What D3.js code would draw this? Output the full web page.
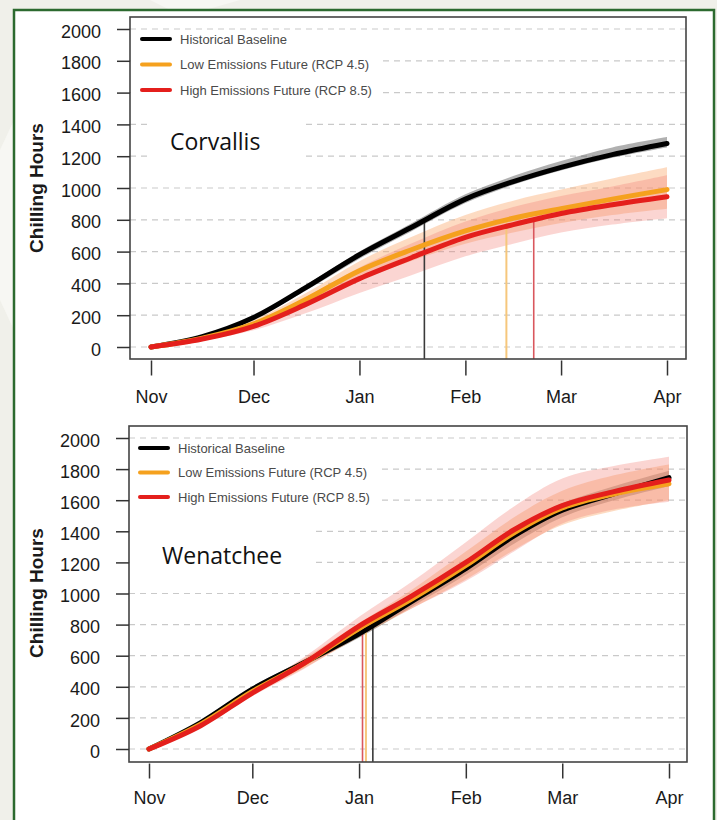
<!DOCTYPE html>
<html>
<head>
<meta charset="utf-8">
<script src="https://cdn.jsdelivr.net/npm/d3@7"></script>
<style>
body { margin: 0; background: #f0f0ea; }
svg { display: block; }
.axis text { font-family: "Liberation Sans", Arial, sans-serif; font-size: 18px; fill: #1a1a1a; }
.axis line { stroke: #333; stroke-width: 1.5; }
.legend text { font-family: "Liberation Sans", Arial, sans-serif; font-size: 13px; fill: #4a4a4a; }
.ytitle { font-family: "Liberation Sans", Arial, sans-serif; font-size: 19px; font-weight: bold; fill: #1a1a1a; }
.place { font-family: "Open Sans", "Noto Sans", sans-serif; font-size: 23px; fill: #111; }
</style>
</head>
<body>
<svg id="chart" width="717" height="820"></svg>
<script>
// days counted from Nov 1
var days = [0, 15, 30, 45, 61, 76, 92, 106, 120, 135, 151];
var monthDays = [0, 30, 61, 92, 120, 151];
var monthLabels = ["Nov", "Dec", "Jan", "Feb", "Mar", "Apr"];
var yTicks = [0, 200, 400, 600, 800, 1000, 1200, 1400, 1600, 1800, 2000];
var seriesNames = ["Historical Baseline", "Low Emissions Future (RCP 4.5)", "High Emissions Future (RCP 8.5)"];
var threshold = 800;

// Corvallis
var corvallisHist   = [0, 65, 185, 370, 580, 750, 930, 1040, 1130, 1210, 1280];
var corvallisHistLo = [0, 60, 175, 350, 555, 725, 905, 1020, 1110, 1190, 1255];
var corvallisHistHi = [0, 70, 195, 385, 600, 775, 960, 1075, 1170, 1255, 1320];
var corvallisLow    = [0, 55, 145, 295, 480, 610, 730, 810, 870, 930, 990];
var corvallisLowLo  = [0, 45, 125, 255, 420, 540, 650, 720, 780, 830, 870];
var corvallisLowHi  = [0, 65, 170, 335, 540, 690, 830, 920, 990, 1060, 1130];
var corvallisHigh   = [0, 50, 130, 265, 430, 560, 690, 770, 840, 895, 945];
var corvallisHighLo = [0, 40, 105, 210, 340, 450, 570, 650, 720, 770, 810];
var corvallisHighHi = [0, 60, 155, 310, 500, 650, 790, 880, 950, 1010, 1080];
var corvallisCross  = [80, 104, 112];

// Wenatchee
var wenatcheeHist   = [0, 170, 385, 555, 740, 945, 1160, 1370, 1535, 1640, 1745];
var wenatcheeHistLo = [0, 160, 370, 535, 715, 910, 1120, 1320, 1490, 1600, 1690];
var wenatcheeHistHi = [0, 180, 400, 575, 765, 980, 1200, 1420, 1580, 1690, 1790];
var wenatcheeLow    = [0, 160, 370, 550, 775, 960, 1180, 1390, 1550, 1640, 1705];
var wenatcheeLowLo  = [0, 150, 350, 520, 720, 900, 1090, 1280, 1440, 1530, 1600];
var wenatcheeLowHi  = [0, 170, 390, 580, 810, 1020, 1270, 1490, 1660, 1760, 1830];
var wenatcheeHigh   = [0, 150, 360, 550, 790, 980, 1200, 1410, 1565, 1655, 1730];
var wenatcheeHighLo = [0, 140, 340, 515, 730, 900, 1080, 1270, 1450, 1540, 1590];
var wenatcheeHighHi = [0, 160, 380, 590, 850, 1070, 1330, 1560, 1740, 1820, 1880];
var wenatcheeCross  = [65, 63, 62];

var lineColors = ["#000000", "#f5a11e", "#e41f1c"];
var bandColors = ["rgba(80,80,80,0.45)", "rgba(250,170,110,0.42)", "rgba(242,125,115,0.32)"];
var vlineColors = ["#3a3a3a", "#f6c77c", "#d9575d"];

var svg = d3.select("#chart");

// background swooshes and frame
svg.append("polygon").attr("points", "150,0 240,0 205,10 170,10").attr("fill", "#f7f7f3");
svg.append("polygon").attr("points", "0,150 14,120 14,330 0,300").attr("fill", "#f7f7f3");
svg.append("rect")
    .attr("x", 14).attr("y", 10).attr("width", 700).attr("height", 840)
    .attr("fill", "#fff").attr("stroke", "#2c6a2f").attr("stroke-width", 2.5);

var panels = [
  { name: "Corvallis", box: [130, 17, 686, 359], xr: [151, 667], yr: [347, 29],
    hist: corvallisHist, histLo: corvallisHistLo, histHi: corvallisHistHi,
    low: corvallisLow, lowLo: corvallisLowLo, lowHi: corvallisLowHi,
    high: corvallisHigh, highLo: corvallisHighLo, highHi: corvallisHighHi,
    cross: corvallisCross, legX: 142, legY: 39, legGap: 25.5, labX: 170, labY: 150,
    labBox: [148, 108, 301, 172], legBox: [131, 30, 379, 102], titleY: 188, pad: 15 },
  { name: "Wenatchee", box: [129, 426, 687, 762], xr: [149, 669], yr: [749, 438],
    hist: wenatcheeHist, histLo: wenatcheeHistLo, histHi: wenatcheeHistHi,
    low: wenatcheeLow, lowLo: wenatcheeLowLo, lowHi: wenatcheeLowHi,
    high: wenatcheeHigh, highLo: wenatcheeHighLo, highHi: wenatcheeHighHi,
    cross: wenatcheeCross, legX: 140, legY: 448, legGap: 24.5, labX: 162, labY: 564,
    labBox: [130, 516, 315, 578], legBox: [130, 440, 379, 510], titleY: 593, pad: 13 }
];

panels.forEach(drawPanel);

function drawPanel(p) {
  var g = svg.append("g");
  var x = d3.scaleLinear().domain([0, 151]).range(p.xr);
  var y = d3.scaleLinear().domain([0, 2000]).range(p.yr);
  var b = p.box;

  // grid
  g.selectAll(".grid")
      .data(yTicks)
    .enter().append("line")
      .attr("x1", b[0]).attr("x2", b[2])
      .attr("y1", function(d) { return y(d); })
      .attr("y2", function(d) { return y(d); })
      .attr("stroke", "#c9c9c9").attr("stroke-width", 1.2)
      .attr("stroke-dasharray", "6,5");

  // white boxes behind legend and place name
  g.append("rect").attr("x", p.legBox[0]).attr("y", p.legBox[1])
      .attr("width", p.legBox[2] - p.legBox[0]).attr("height", p.legBox[3] - p.legBox[1]).attr("fill", "#fff");
  g.append("rect").attr("x", p.labBox[0]).attr("y", p.labBox[1])
      .attr("width", p.labBox[2] - p.labBox[0]).attr("height", p.labBox[3] - p.labBox[1]).attr("fill", "#fff");

  var series = [
    { v: p.hist, lo: p.histLo, hi: p.histHi },
    { v: p.low, lo: p.lowLo, hi: p.lowHi },
    { v: p.high, lo: p.highLo, hi: p.highHi }
  ];

  var area = d3.area()
      .x(function(d) { return x(d.day); })
      .y0(function(d) { return y(d.lo); })
      .y1(function(d) { return y(d.hi); })
      .curve(d3.curveCatmullRom.alpha(0.5));
  var line = d3.line()
      .x(function(d) { return x(d.day); })
      .y(function(d) { return y(d.v); })
      .curve(d3.curveCatmullRom.alpha(0.5));

  series.forEach(function(s, k) {
    var pts = days.map(function(d, i) { return { day: d, v: s.v[i], lo: s.lo[i], hi: s.hi[i] }; });
    g.append("path").datum(pts).attr("d", area).attr("fill", bandColors[k]);
  });

  // threshold markers
  p.cross.forEach(function(c, k) {
    g.append("line")
        .attr("x1", x(c)).attr("x2", x(c))
        .attr("y1", b[3]).attr("y2", y(threshold))
        .attr("stroke", vlineColors[k]).attr("stroke-width", k == 1 ? 2 : 1.6);
  });

  series.forEach(function(s, k) {
    var pts = days.map(function(d, i) { return { day: d, v: s.v[i] }; });
    g.append("path").datum(pts).attr("d", line)
        .attr("fill", "none").attr("stroke", lineColors[k])
        .attr("stroke-width", 5).attr("stroke-linecap", "round");
  });

  // box
  g.append("rect")
      .attr("x", b[0]).attr("y", b[1])
      .attr("width", b[2] - b[0]).attr("height", b[3] - b[1])
      .attr("fill", "none").attr("stroke", "#444").attr("stroke-width", 1.6);

  // axes
  var ya = g.append("g").attr("class", "axis")
      .attr("transform", "translate(" + b[0] + ",0)")
      .call(d3.axisLeft(y).tickValues(yTicks).tickSize(13).tickPadding(16).tickFormat(d3.format("d")));
  ya.select(".domain").remove();
  ya.selectAll("text").attr("dy", "0.45em");

  var xa = g.append("g").attr("class", "axis")
      .attr("transform", "translate(0," + (b[3] + 1.5) + ")")
      .call(d3.axisBottom(x).tickValues(monthDays).tickSize(15).tickPadding(p.pad)
        .tickFormat(function(d, i) { return monthLabels[i]; }));
  xa.select(".domain").remove();

  g.append("text").attr("class", "ytitle")
      .attr("transform", "translate(43," + p.titleY + ") rotate(-90)")
      .attr("text-anchor", "middle")
      .text("Chilling Hours");

  // legend
  var leg = g.append("g").attr("class", "legend");
  seriesNames.forEach(function(n, k) {
    var ly = p.legY + k * p.legGap;
    leg.append("line").attr("x1", p.legX).attr("x2", p.legX + 28)
        .attr("y1", ly).attr("y2", ly)
        .attr("stroke", lineColors[k]).attr("stroke-width", 4).attr("stroke-linecap", "round");
    leg.append("text").attr("x", p.legX + 38).attr("y", ly).attr("dy", "0.35em").text(n);
  });

  g.append("text").attr("class", "place")
      .attr("x", p.labX).attr("y", p.labY)
      .text(p.name);
}
</script>
</body>
</html>
